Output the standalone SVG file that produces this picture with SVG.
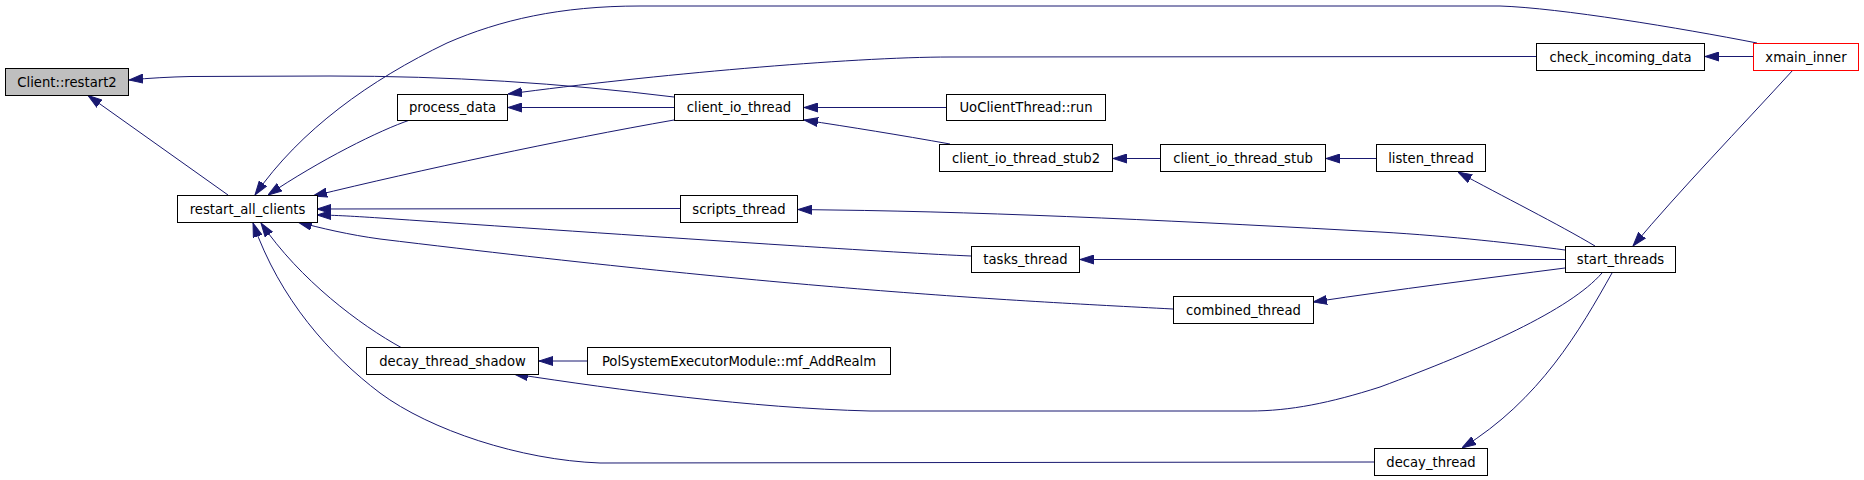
<svg xmlns="http://www.w3.org/2000/svg" width="1864" height="480" viewBox="0 0 1864 480">
<style>
.n rect{fill:#ffffff;stroke:#000000;stroke-width:1}
.n text{font-family:"DejaVu Sans","Liberation Sans",sans-serif;font-size:13.2px;fill:#000000;text-anchor:middle}
.e path{fill:none;stroke:#191970;stroke-width:1;marker-end:url(#ah)}
</style>
<defs>
<marker id="ah" markerUnits="userSpaceOnUse" markerWidth="14" markerHeight="10" viewBox="0 0 14 10" refX="14" refY="5" orient="auto">
<path d="M0,0.5 L14,5 L0,9.5 z" fill="#191970" stroke="#191970" stroke-width="1"/>
</marker>
</defs>
<rect width="1864" height="480" fill="#ffffff"/>
<g id="edges" class="e">
<path d="M674,97 C560,83 450,76 330,76 L190,76.5 C170,77 150,78 129,80"/>
<path d="M228,195 L88,95.5"/>
<path d="M1757,43 C1680,28 1560,8 1500,6 L640,6 C560,6 500,20 447,43 C370,80 300,130 255,195"/>
<path d="M410,120 C380,130 320,160 268,195"/>
<path d="M674,120 C560,140 420,170 313,196"/>
<path d="M680,208.5 L317,209"/>
<path d="M971,256 C900,253 700,240 380,218 C350,216 330,215 317,215"/>
<path d="M1173,309 C1000,300 800,290 380,239 C350,235 320,228 298,222"/>
<path d="M402,348 C360,325 300,280 261,223"/>
<path d="M1374,462 L600,463 C520,460 430,430 380,393 C330,355 280,300 253,223"/>
<path d="M1536,56.5 L950,57 C850,57 650,75 508,94"/>
<path d="M674,107.5 L508,107.5"/>
<path d="M946,107.5 L804,107.5"/>
<path d="M950,144 C900,135 850,127 804,120"/>
<path d="M1160,158.5 L1113,158.5"/>
<path d="M1376,158.5 L1326,158.5"/>
<path d="M1753,56.5 L1705,56.5"/>
<path d="M1595,246 C1560,225 1500,195 1458,172"/>
<path d="M1793,70 C1740,128 1680,190 1633,246"/>
<path d="M1565,250 C1520,244 1450,236 1380,232 C1200,222 1000,212 833,210 L798,209.5"/>
<path d="M1565,259.5 L1080,259.5"/>
<path d="M1565,268 C1480,279 1400,289 1313,302"/>
<path d="M1602,273 C1570,310 1480,350 1380,387 C1330,403 1290,411 1250,411 L870,411 C750,408 620,390 514,374"/>
<path d="M1612,273 C1580,330 1540,400 1462,448"/>
<path d="M587,361 L539,361"/>
</g>
<g id="node_client_restart2" class="n"><rect x="5.5" y="68.5" width="123" height="27" style="fill:#bfbfbf"/><text x="67" y="86.5">Client::restart2</text></g>
<g id="node_restart_all_clients" class="n"><rect x="177.5" y="195.5" width="140" height="27"/><text x="247.5" y="213.5">restart_all_clients</text></g>
<g id="node_process_data" class="n"><rect x="397.5" y="94.5" width="110" height="26"/><text x="452.5" y="112">process_data</text></g>
<g id="node_client_io_thread" class="n"><rect x="674.5" y="94.5" width="129" height="26"/><text x="739" y="112">client_io_thread</text></g>
<g id="node_scripts_thread" class="n"><rect x="680.5" y="195.5" width="117" height="27"/><text x="739" y="213.5">scripts_thread</text></g>
<g id="node_decay_thread_shadow" class="n"><rect x="366.5" y="347.5" width="172" height="27"/><text x="452.5" y="365.5">decay_thread_shadow</text></g>
<g id="node_mf_addrealm" class="n"><rect x="587.5" y="347.5" width="303" height="27"/><text x="739" y="365.5">PolSystemExecutorModule::mf_AddRealm</text></g>
<g id="node_uoclientthread_run" class="n"><rect x="946.5" y="94.5" width="159" height="26"/><text x="1026" y="112">UoClientThread::run</text></g>
<g id="node_client_io_thread_stub2" class="n"><rect x="939.5" y="144.5" width="173" height="27"/><text x="1026" y="162.5">client_io_thread_stub2</text></g>
<g id="node_client_io_thread_stub" class="n"><rect x="1160.5" y="144.5" width="165" height="27"/><text x="1243" y="162.5">client_io_thread_stub</text></g>
<g id="node_listen_thread" class="n"><rect x="1376.5" y="144.5" width="109" height="27"/><text x="1431" y="162.5">listen_thread</text></g>
<g id="node_check_incoming_data" class="n"><rect x="1536.5" y="43.5" width="168" height="27"/><text x="1620.5" y="61.5">check_incoming_data</text></g>
<g id="node_xmain_inner" class="n"><rect x="1753.5" y="43.5" width="105" height="27" style="stroke:#ff0000"/><text x="1806" y="61.5">xmain_inner</text></g>
<g id="node_tasks_thread" class="n"><rect x="971.5" y="246.5" width="108" height="26"/><text x="1025.5" y="264">tasks_thread</text></g>
<g id="node_combined_thread" class="n"><rect x="1173.5" y="296.5" width="140" height="27"/><text x="1243.5" y="314.5">combined_thread</text></g>
<g id="node_start_threads" class="n"><rect x="1565.5" y="246.5" width="110" height="26"/><text x="1620.5" y="264">start_threads</text></g>
<g id="node_decay_thread" class="n"><rect x="1374.5" y="448.5" width="113" height="27"/><text x="1431" y="466.5">decay_thread</text></g>
</svg>
